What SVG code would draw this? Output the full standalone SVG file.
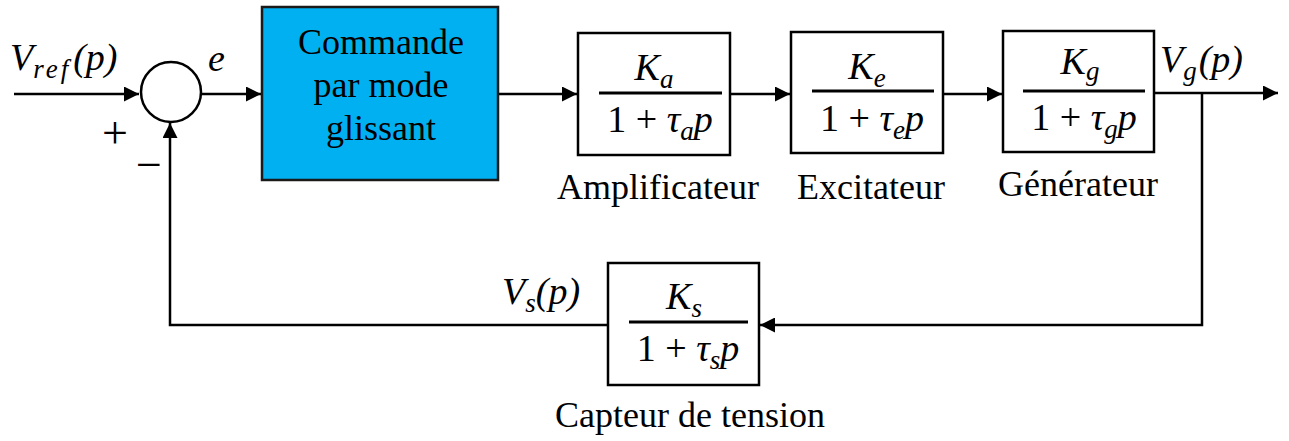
<svg xmlns="http://www.w3.org/2000/svg" width="1289" height="441" viewBox="0 0 1289 441">
<style>
.blk{fill:#fff;stroke:#000;stroke-width:2.5}
.ln{fill:none;stroke:#000;stroke-width:2.5}
.m{font-family:"Liberation Serif","DejaVu Serif",serif;font-style:italic;font-size:38px;fill:#000}
.n{font-family:"Liberation Serif","DejaVu Serif",serif;font-size:46px;fill:#000}
.sub{font-size:27px}
.up{font-style:normal}
.lbl{font-family:"Liberation Serif",serif;font-size:36px;fill:#000;text-anchor:middle}
.cmd{font-family:"Liberation Serif",serif;font-size:36px;fill:#000;text-anchor:middle}
</style>
<defs>
<marker id="ar" viewBox="0 0 10 10" refX="10" refY="5" markerWidth="6" markerHeight="6" orient="auto" markerUnits="strokeWidth">
<path d="M0,0 L10,5 L0,10 z" fill="#000"/>
</marker>
</defs>
<g id="connectors">
<line class="ln" x1="14" y1="94" x2="139" y2="94" marker-end="url(#ar)"/>
<line class="ln" x1="201" y1="94" x2="261" y2="94" marker-end="url(#ar)"/>
<line class="ln" x1="498" y1="94" x2="577" y2="94" marker-end="url(#ar)"/>
<line class="ln" x1="730" y1="94" x2="790" y2="94" marker-end="url(#ar)"/>
<line class="ln" x1="943" y1="94" x2="1002" y2="94" marker-end="url(#ar)"/>
<line class="ln" x1="1154" y1="93" x2="1278" y2="93" marker-end="url(#ar)"/>
<polyline class="ln" points="1202,93 1202,325 760,325" marker-end="url(#ar)"/>
<polyline class="ln" points="608,325 170,325 170,123" marker-end="url(#ar)"/>
</g>
<g id="sum">
<circle cx="171" cy="92" r="30" class="blk"/>
<text x="102" y="148" class="n">+</text>
<text x="136" y="180" class="n">−</text>
</g>
<g id="labels-signals">
<text x="10" y="70" class="m">V<tspan class="sub" dy="8" letter-spacing="3">ref</tspan><tspan dy="-8" dx="2">(p)</tspan></text>
<text x="208" y="71" class="m">e</text>
<text x="1160" y="72" class="m">V<tspan class="sub" dy="8">g</tspan><tspan dy="-8" dx="2">(p)</tspan></text>
<text x="502" y="304" class="m">V<tspan class="sub" dy="8">s</tspan><tspan dy="-8">(p)</tspan></text>
</g>
<g id="commande">
<rect x="262" y="7" width="236" height="173" fill="#00B0F0" stroke="#1a1a1a" stroke-width="2.5"/>
<text x="381" y="54" class="cmd">Commande</text>
<text x="381" y="97" class="cmd">par mode</text>
<text x="381" y="140" class="cmd">glissant</text>
</g>
<g id="amplificateur">
<rect x="578" y="33" width="152" height="122" class="blk"/>
<text x="654" y="80" class="m" text-anchor="middle">K<tspan class="sub" dy="8">a</tspan></text>
<line x1="599" y1="93" x2="722" y2="93" stroke="#000" stroke-width="3"/>
<text x="660" y="132" class="m" text-anchor="middle"><tspan class="up">1 + </tspan>τ<tspan class="sub" dy="8">a</tspan><tspan dy="-8">p</tspan></text>
<text x="658" y="199" class="lbl">Amplificateur</text>
</g>
<g id="excitateur">
<rect x="791" y="32" width="152" height="121" class="blk"/>
<text x="867" y="79" class="m" text-anchor="middle">K<tspan class="sub" dy="8">e</tspan></text>
<line x1="812" y1="91" x2="934" y2="91" stroke="#000" stroke-width="3"/>
<text x="872" y="131" class="m" text-anchor="middle"><tspan class="up">1 + </tspan>τ<tspan class="sub" dy="8">e</tspan><tspan dy="-8">p</tspan></text>
<text x="871" y="199" class="lbl">Excitateur</text>
</g>
<g id="generateur">
<rect x="1003" y="31" width="151" height="121" class="blk"/>
<text x="1080" y="74" class="m" text-anchor="middle">K<tspan class="sub" dy="6">g</tspan></text>
<line x1="1023" y1="91" x2="1145" y2="91" stroke="#000" stroke-width="3"/>
<text x="1084" y="130" class="m" text-anchor="middle"><tspan class="up">1 + </tspan>τ<tspan class="sub" dy="8">g</tspan><tspan dy="-8">p</tspan></text>
<text x="1078" y="196" class="lbl">Générateur</text>
</g>
<g id="capteur">
<rect x="608" y="263" width="151" height="122" class="blk"/>
<text x="684" y="309" class="m" text-anchor="middle">K<tspan class="sub" dy="8">s</tspan></text>
<line x1="629" y1="322" x2="748" y2="322" stroke="#000" stroke-width="3"/>
<text x="688" y="361" class="m" text-anchor="middle"><tspan class="up">1 + </tspan>τ<tspan class="sub" dy="8">s</tspan><tspan dy="-8">p</tspan></text>
<text x="690" y="427" class="lbl">Capteur de tension</text>
</g>
</svg>
